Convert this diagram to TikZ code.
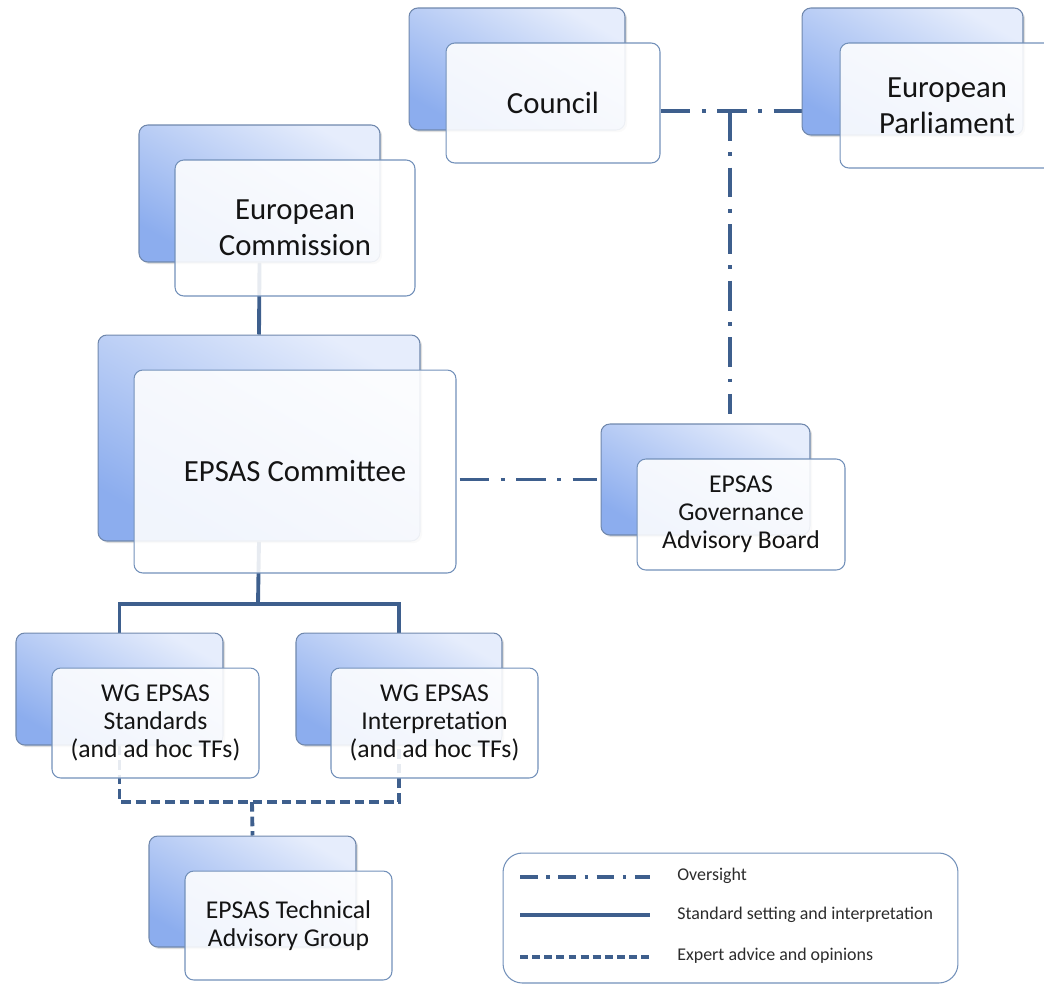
\documentclass[tikz,border=0pt]{standalone}
\usepackage{fontspec}
\setmainfont{Carlito}
\usepackage{xcolor}
\usepackage{tikz}
\usetikzlibrary{backgrounds,shadows}

\definecolor{linkblue}{HTML}{3E5F8D}
\definecolor{backtop}{HTML}{E6EDFC}
\definecolor{backbot}{HTML}{8CADEE}
\definecolor{backedge}{HTML}{7088AD}
\definecolor{frontedge}{HTML}{7391BA}
\definecolor{inktext}{HTML}{141414}

\begin{document}
\begin{tikzpicture}[
  x=0.02cm,
  y=-0.02cm,
  bigfont/.style={font=\fontsize{17.5}{20.5}\selectfont},
  smallfont/.style={font=\fontsize{14.6}{16}\selectfont},
  backbox/.style={draw=backedge, line width=0.6pt, rounded corners=5pt,
    top color=backtop, bottom color=backbot, shading angle=-30,
    drop shadow={opacity=0.25, shadow xshift=1.2pt, shadow yshift=-1.2pt}},
  frontbox/.style={draw=frontedge, line width=0.6pt, rounded corners=5pt,
    fill=white, fill opacity=0.88, text opacity=1, text=inktext,
    align=center, inner sep=2pt},
  standard/.style={line width=2.2pt, draw=linkblue},
  oversight/.style={line width=2.2pt, draw=linkblue,
    dash pattern=on 17pt off 6.5pt on 2.2pt off 6.5pt},
  expert/.style={line width=2.2pt, draw=linkblue,
    dash pattern=on 5.5pt off 2.8pt},
  legendbox/.style={draw=frontedge, line width=0.6pt, rounded corners=11pt,
    fill=white, minimum width=9.10cm, minimum height=2.60cm},
  legendtext/.style={font=\fontsize{10.2}{12}\selectfont, text=inktext!90, anchor=west,
    inner sep=0pt}
]

\useasboundingbox (0,0) rectangle (1044,985);

\node[backbox, minimum width=4.32cm, minimum height=2.44cm] (councilB) at (517,69) {};
\node[frontbox, bigfont, minimum width=4.28cm, minimum height=2.40cm] (council) at (553,103) {Council};

\node[backbox, minimum width=4.42cm, minimum height=2.54cm] (parliamentB) at (912.5,71.5) {};
\node[frontbox, bigfont, minimum width=4.28cm, minimum height=2.50cm] (parliament) at (947,105.5)
  {European\\Parliament};

\node[backbox, minimum width=4.82cm, minimum height=2.74cm] (commissionB) at (259.5,193.5) {};
\node[frontbox, bigfont, minimum width=4.80cm, minimum height=2.72cm] (commission) at (295,228)
  {European\\Commission};

\node[backbox, minimum width=6.44cm, minimum height=4.12cm] (committeeB) at (259,438) {};
\node[frontbox, bigfont, minimum width=6.44cm, minimum height=4.06cm] (committee) at (295,471.5)
  {EPSAS Committee};

\node[backbox, minimum width=4.18cm, minimum height=2.22cm] (governanceB) at (705.5,479.5) {};
\node[frontbox, smallfont, minimum width=4.16cm, minimum height=2.22cm] (governance) at (741,514.5)
  {EPSAS\\Governance\\Advisory Board};

\node[backbox, minimum width=4.14cm, minimum height=2.24cm] (standardsB) at (119.5,689) {};
\node[frontbox, smallfont, minimum width=4.14cm, minimum height=2.20cm] (standards) at (155.5,723)
  {WG EPSAS\\Standards\\(and ad hoc TFs)};

\node[backbox, minimum width=4.12cm, minimum height=2.24cm] (interpretB) at (399,689) {};
\node[frontbox, smallfont, minimum width=4.14cm, minimum height=2.20cm] (interpret) at (434.5,723)
  {WG EPSAS\\Interpretation\\(and ad hoc TFs)};

\node[backbox, minimum width=4.14cm, minimum height=2.22cm] (technicalB) at (252.5,891.5) {};
\node[frontbox, smallfont, minimum width=4.14cm, minimum height=2.18cm] (technical) at (288.5,925.5)
  {EPSAS Technical\\Advisory Group};

\coordinate (overjoin) at (730,111);
\coordinate (split) at (258,604);
\coordinate (advice) at (252,802);

\begin{scope}[on background layer]
  \draw[oversight] (council.east |- overjoin) -- (parliamentB.west |- overjoin);
  \draw[oversight] (overjoin) -- ([yshift=0.18cm]overjoin |- governanceB.north);
  \draw[oversight] ([xshift=0.06cm]committee.east |- governanceB.west) -- ([xshift=-0.08cm]governanceB.west);
  \draw[standard] (commissionB.south) -- (committeeB.north);
  \draw[standard] (committeeB.south) -- (split);
  \draw[standard] (standardsB.north) |- (split) -| (interpretB.north);
  \draw[expert] (standardsB.south) |- (advice) -| (interpretB.south);
  \draw[expert] (advice) -- (technicalB.north);
\end{scope}

\node[legendbox] (legend) at (730.5,918) {};
\coordinate (ovA) at (520,877);
\coordinate (ovB) at (650,877);
\coordinate (stA) at (520,915);
\coordinate (stB) at (650,915);
\coordinate (exA) at (520,957);
\coordinate (exB) at (650,957);
\draw[oversight, line width=1.8pt, dash pattern=on 10pt off 5pt on 1.8pt off 5pt] (ovA) -- (ovB);
\draw[standard, line width=1.8pt] (stA) -- (stB);
\draw[expert, line width=1.8pt, dash pattern=on 4.5pt off 2.4pt] (exA) -- (exB);
\node[legendtext] (oversightlbl) at (677,876) {Oversight};
\node[legendtext] (standardlbl) at (677,915) {Standard setting and interpretation};
\node[legendtext] (expertlbl) at (677,956) {Expert advice and opinions};

\end{tikzpicture}
\end{document}
